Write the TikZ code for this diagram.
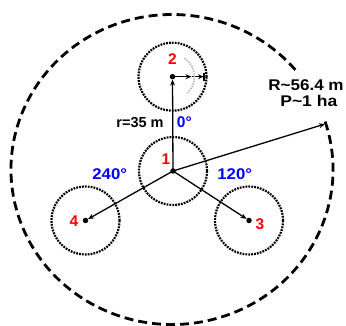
\documentclass[tikz,border=0pt]{standalone}
\usepackage{fontspec}
\setmainfont{Liberation Sans}
\usetikzlibrary{arrows.meta}
\begin{document}
\begin{tikzpicture}[x=1pt,y=-1pt,
  tree/.style={draw, line width=2.2pt, dash pattern=on 1.8pt off 1.1pt, circle, minimum size=68pt, inner sep=0pt},
  dotn/.style={circle, fill=black, minimum size=5.5pt, inner sep=0pt},
  arr/.style={line width=1.3pt, -{Stealth[length=6pt,width=5pt]}},
  bigdash/.style={line width=2.8pt, dash pattern=on 9pt off 5pt},
  lbl/.style={font=\fontsize{15.5}{15.5}\selectfont\bfseries, inner sep=0pt, anchor=center}]
\useasboundingbox (0,0) rectangle (346,326);
% big plot boundary
\coordinate (P) at (172,169.5);
\draw[bigdash] (P) ++(-18:161 and 155) arc[start angle=-18, end angle=320, x radius=161, y radius=155];
% tree centres
\node[dotn] (n1) at (173,171) {};
\node[dotn] (n2) at (172.5,76.7) {};
\node[dotn] (n3) at (249,220.5) {};
\node[dotn] (n4) at (85.5,220.5) {};
% subplot circles
\node[tree] (c1) at (n1) {};
\node[tree] (c2) at (n2) {};
\node[tree] (c3) at (n3) {};
\node[tree] (c4) at (n4) {};
% connectors
\coordinate (edge) at (325,124);
\draw[arr] (n1.center) -- (n2);
\draw[arr] (n1.center) -- (n3);
\draw[arr] (n1.center) -- (n4);
\draw[arr] (n1.center) -- (edge);
% radius marker in subplot 2
\coordinate (m2) at (191.5,76.7);
\coordinate (e2) at (204.5,76.7);
\draw[arr] (n2.center) -- (m2);
\draw[line width=1.3pt, -{Stealth[length=5pt,width=5pt]Bar[width=8pt,line width=1.3pt]}] (m2) -- (e2);
\draw[gray!60, line width=1.6pt, dash pattern=on 1.4pt off 1.2pt] (n2.center) ++(-57:22) arc[start angle=-57, end angle=47, radius=22];
% labels
\node[lbl, red] (l2) at (172.5,59.5) {2};
\node[lbl, red] (l1) at (166,159) {1};
\node[lbl, red] (l4) at (74,221) {4};
\node[lbl, red] (l3) at (260,223.7) {3};
\node[lbl, blue] (a240) at (109.7,174) {\scalebox{1.08}[1]{240°}};
\node[lbl, blue] (a120) at (234.7,174) {\scalebox{1.08}[1]{120°}};
\node[lbl, blue] (a0) at (184.3,122.5) {0°};
\node[lbl, font=\fontsize{14.5}{14.5}\selectfont\bfseries] (r35) at (140,122.5) {r=35 m};
\node[lbl] (Rl) at (306,85.3) {\scalebox{1.1}[1]{R\textasciitilde 56.4 m}};
\node[lbl] (Pl) at (308.8,100.8) {\scalebox{1.13}[1]{P\textasciitilde 1 ha}};
\end{tikzpicture}
\end{document}
